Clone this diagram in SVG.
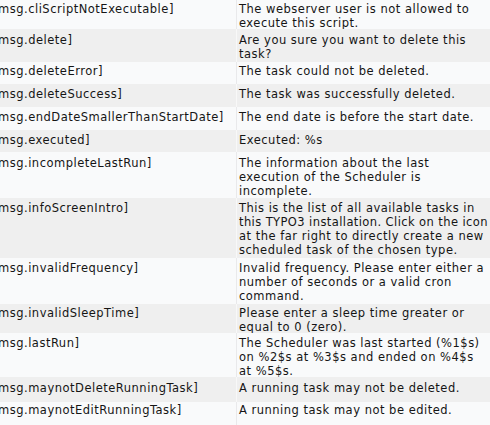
<svg xmlns="http://www.w3.org/2000/svg" width="490" height="425" viewBox="0 0 490 425">
<style>
text{font-family:"DejaVu Sans","Verdana",sans-serif;font-size:11.5px;letter-spacing:0.5px;fill:#151515}
.w{fill:#f9fafb}
.g{fill:#efefef}
.sw{stroke:#e9e9eb;stroke-width:1}
.sg{stroke:#f8f8f8;stroke-width:1}
</style>
<g id="row1"><rect class="w" x="0" y="0" width="490" height="29"/><line class="sw" x1="236.5" y1="0" x2="236.5" y2="29"/>
<text x="-2" y="12.5">msg.cliScriptNotExecutable]</text>
<text x="239" y="12.5">The webserver user is not allowed to</text><text x="239" y="26.5">execute this script.</text></g>
<g id="row2"><rect class="g" x="0" y="29" width="490" height="33"/><line class="sg" x1="236.5" y1="29" x2="236.5" y2="62"/>
<text x="-2" y="43.5">msg.delete]</text>
<text x="239" y="43.5">Are you sure you want to delete this</text><text x="239" y="57.5">task?</text></g>
<g id="row3"><rect class="w" x="0" y="62" width="490" height="22"/><line class="sw" x1="236.5" y1="62" x2="236.5" y2="84"/>
<text x="-2" y="74.5">msg.deleteError]</text>
<text x="239" y="74.5">The task could not be deleted.</text></g>
<g id="row4"><rect class="g" x="0" y="84" width="490" height="23"/><line class="sg" x1="236.5" y1="84" x2="236.5" y2="107"/>
<text x="-2" y="97.5">msg.deleteSuccess]</text>
<text x="239" y="97.5">The task was successfully deleted.</text></g>
<g id="row5"><rect class="w" x="0" y="107" width="490" height="23"/><line class="sw" x1="236.5" y1="107" x2="236.5" y2="130"/>
<text x="-2" y="120.5">msg.endDateSmallerThanStartDate]</text>
<text x="239" y="120.5">The end date is before the start date.</text></g>
<g id="row6"><rect class="g" x="0" y="130" width="490" height="22"/><line class="sg" x1="236.5" y1="130" x2="236.5" y2="152"/>
<text x="-2" y="143.5">msg.executed]</text>
<text x="239" y="143.5">Executed: %s</text></g>
<g id="row7"><rect class="w" x="0" y="152" width="490" height="46"/><line class="sw" x1="236.5" y1="152" x2="236.5" y2="198"/>
<text x="-2" y="166.5">msg.incompleteLastRun]</text>
<text x="239" y="166.5">The information about the last</text><text x="239" y="180.5">execution of the Scheduler is</text><text x="239" y="194.5">incomplete.</text></g>
<g id="row8"><rect class="g" x="0" y="198" width="490" height="60"/><line class="sg" x1="236.5" y1="198" x2="236.5" y2="258"/>
<text x="-2" y="211.5">msg.infoScreenIntro]</text>
<text x="239" y="211.5">This is the list of all available tasks in</text><text x="239" y="225.5" textLength="249" lengthAdjust="spacing">this TYPO3 installation. Click on the icon</text><text x="239" y="239.5">at the far right to directly create a new</text><text x="239" y="253.5">scheduled task of the chosen type.</text></g>
<g id="row9"><rect class="w" x="0" y="258" width="490" height="46"/><line class="sw" x1="236.5" y1="258" x2="236.5" y2="304"/>
<text x="-2" y="271.5">msg.invalidFrequency]</text>
<text x="239" y="271.5">Invalid frequency. Please enter either a</text><text x="239" y="285.5">number of seconds or a valid cron</text><text x="239" y="299.5">command.</text></g>
<g id="row10"><rect class="g" x="0" y="304" width="490" height="29"/><line class="sg" x1="236.5" y1="304" x2="236.5" y2="333"/>
<text x="-2" y="316.5">msg.invalidSleepTime]</text>
<text x="239" y="316.5">Please enter a sleep time greater or</text><text x="239" y="330.5">equal to 0 (zero).</text></g>
<g id="row11"><rect class="w" x="0" y="333" width="490" height="44"/><line class="sw" x1="236.5" y1="333" x2="236.5" y2="377"/>
<text x="-2" y="347">msg.lastRun]</text>
<text x="239" y="347">The Scheduler was last started (%1$s)</text><text x="239" y="361">on %2$s at %3$s and ended on %4$s</text><text x="239" y="375">at %5$s.</text></g>
<g id="row12"><rect class="g" x="0" y="377" width="490" height="25"/><line class="sg" x1="236.5" y1="377" x2="236.5" y2="402"/>
<text x="-2" y="391.5">msg.maynotDeleteRunningTask]</text>
<text x="239" y="391.5">A running task may not be deleted.</text></g>
<g id="row13"><rect class="w" x="0" y="402" width="490" height="23"/><line class="sw" x1="236.5" y1="402" x2="236.5" y2="425"/>
<text x="-2" y="414">msg.maynotEditRunningTask]</text>
<text x="239" y="414">A running task may not be edited.</text></g>
</svg>
